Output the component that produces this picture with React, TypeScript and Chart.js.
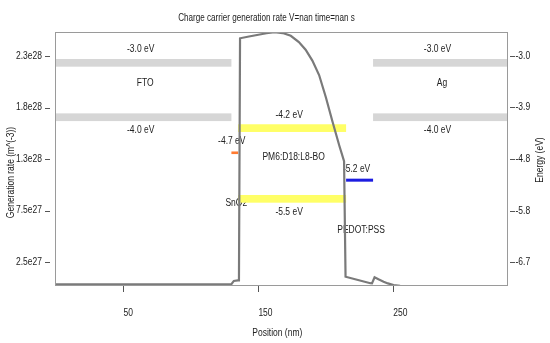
import { useEffect, useRef } from "react";
import { Chart, registerables } from "chart.js";

Chart.register(...registerables);

// ---- data ----
const positionNm = [
  0, 130, 131.8, 134.8, 135.6, 136.4, 143, 150, 156, 162, 168, 174, 180, 185, 190,
  195, 200, 205, 210, 213.5, 214.6, 233, 234.2, 236.1, 239, 242.8, 246, 250.2, 255,
  262, 280, 335,
];
const generationRate = [
  0.37e27, 0.37e27, 0.69e27, 0.74e27, 0.74e27, 24.21e27, 24.38e27, 24.55e27, 24.7e27,
  24.8e27, 24.72e27, 24.45e27, 23.85e27, 23.1e27, 22.05e27, 20.65e27, 18.5e27, 16.1e27,
  13.8e27, 12.3e27, 1.1e27, 0.47e27, 0.45e27, 1.05e27, 0.85e27, 0.62e27, 0.45e27,
  0.3e27, 0.22e27, 0.19e27, 0.18e27, 0.18e27,
];

const xTickValues = [50, 150, 250];
const xTickLabels = ["50", "150", "250"];
const rateTickValues = [2.5e27, 7.5e27, 1.25e28, 1.75e28, 2.25e28];
const rateTickLabels = ["2.5e27", "7.5e27", "1.3e28", "1.8e28", "2.3e28"];
const energyTickValues = [-2.95, -3.89, -4.84, -5.79, -6.74];
const energyTickLabels = ["-3.0", "-3.9", "-4.8", "-5.8", "-6.7"];

const layerNames = ["FTO", "SnO2", "PM6:D18:L8-BO", "PEDOT:PSS", "Ag"];
const layerStart = [0, 130, 135, 215, 235];
const layerEnd = [130, 135, 215, 235, 335];
const layerLumo: (number | null)[] = [-3.0, null, -4.2, null, -3.0];
const layerHomo = [-4.0, -4.7, -5.5, -5.2, -4.0];

const chartTitle = "Charge carrier generation rate V=nan time=nan s";
const xTitle = "Position (nm)";
const yTitle = "Generation rate (m^(-3))";
const y2Title = "Energy (eV)";

// ---- styles ----
const bandColors = ["#d6d6d6", "#ff7a30", "#ffff66", "#1c1ce0", "#d6d6d6"];
const bandThickness = [7.7, 2.6, 7.7, 3, 7.7];
const FONT = '10px "Liberation Sans", Arial, sans-serif';
const TEXT = "#222";
const SX = 0.85;

function drawText(
  ctx: CanvasRenderingContext2D,
  text: string,
  x: number,
  y: number,
  align: CanvasTextAlign,
  baseline: CanvasTextBaseline = "alphabetic",
  rotate = 0,
  sx = SX
) {
  ctx.save();
  ctx.translate(x, y);
  if (rotate) ctx.rotate(rotate);
  ctx.scale(sx, 1);
  ctx.font = FONT;
  ctx.fillStyle = TEXT;
  ctx.textAlign = align;
  ctx.textBaseline = baseline;
  ctx.fillText(text, 0, 0);
  ctx.restore();
}

const overlayPlugin = {
  id: "overlay",
  beforeDatasetsDraw(chart: any) {
    const { ctx, chartArea, scales } = chart;
    const xs = scales.x;
    const es = scales.y2;
    ctx.save();
    ctx.beginPath();
    ctx.rect(chartArea.left, chartArea.top, chartArea.right - chartArea.left, chartArea.bottom - chartArea.top);
    ctx.clip();
    layerNames.forEach((name, i) => {
      const x0 = xs.getPixelForValue(layerStart[i]);
      const x1 = xs.getPixelForValue(layerEnd[i]);
      const xc = (x0 + x1) / 2;
      const th = bandThickness[i];
      const lumo = layerLumo[i];
      const homo = layerHomo[i];
      ctx.fillStyle = bandColors[i];
      if (lumo !== null) ctx.fillRect(x0, es.getPixelForValue(lumo), x1 - x0, th);
      ctx.fillRect(x0, es.getPixelForValue(homo), x1 - x0, th);
      if (lumo !== null) {
        drawText(ctx, `${lumo.toFixed(1)} eV`, xc - 3, es.getPixelForValue(lumo) - 6.5, "center");
        drawText(ctx, name, xc + 1.5, es.getPixelForValue((lumo + homo) / 2), "center");
        drawText(ctx, `${homo.toFixed(1)} eV`, xc - 3, es.getPixelForValue(homo) + 20, "center");
      } else {
        drawText(ctx, `${homo.toFixed(1)} eV`, xc - 3, es.getPixelForValue(homo) - 7, "center");
        drawText(ctx, name, xc + 1.5, es.getPixelForValue(homo - 1.0), "center");
      }
    });
    ctx.restore();
  },
  afterDraw(chart: any) {
    const { ctx, chartArea, scales } = chart;
    const { left, right, top, bottom } = chartArea;
    ctx.save();
    // frame
    ctx.strokeStyle = "#9a9a9a";
    ctx.lineWidth = 1;
    ctx.strokeRect(Math.round(left) - 0.5, Math.round(top) + 0.5, Math.round(right - left), Math.round(bottom - top) - 1);
    // tick marks
    ctx.strokeStyle = "#555";
    ctx.beginPath();
    scales.y.ticks.forEach((t: any) => {
      const y = Math.round(scales.y.getPixelForValue(t.value)) + 0.5;
      ctx.moveTo(45, y);
      ctx.lineTo(50, y);
    });
    scales.y2.ticks.forEach((t: any) => {
      const y = Math.round(scales.y2.getPixelForValue(t.value)) + 0.5;
      ctx.moveTo(510, y);
      ctx.lineTo(515, y);
    });
    scales.x.ticks.forEach((t: any) => {
      const x = Math.round(scales.x.getPixelForValue(t.value)) + 0.5;
      ctx.moveTo(x, bottom);
      ctx.lineTo(x, bottom + 6);
    });
    ctx.stroke();
    ctx.restore();
    // tick labels
    scales.y.ticks.forEach((t: any, i: number) => {
      drawText(ctx, rateTickLabels[i], 42, scales.y.getPixelForValue(t.value), "right", "middle");
    });
    scales.y2.ticks.forEach((t: any, i: number) => {
      drawText(ctx, energyTickLabels[i], 515.5, scales.y2.getPixelForValue(t.value), "left", "middle");
    });
    scales.x.ticks.forEach((t: any, i: number) => {
      drawText(ctx, xTickLabels[i], scales.x.getPixelForValue(t.value), 316, "left");
    });
    // titles
    drawText(ctx, chartTitle, 266.5, 20.5, "center", "alphabetic", 0, 0.81);
    drawText(ctx, xTitle, 277.3, 336, "center");
    drawText(ctx, yTitle, 11, 172.5, "center", "middle", -Math.PI / 2);
    drawText(ctx, y2Title, 540, 160, "center", "middle", -Math.PI / 2);
  },
};

export default function App() {
  const canvasRef = useRef<HTMLCanvasElement | null>(null);

  useEffect(() => {
    if (!canvasRef.current) return;
    const chart = new Chart(canvasRef.current, {
      type: "line",
      data: {
        datasets: [
          {
            data: positionNm.map((x, i) => ({ x, y: generationRate[i] })),
            borderColor: "rgb(122,122,122)",
            borderWidth: 2.2,
            pointRadius: 0,
            tension: 0,
            fill: false,
            yAxisID: "y",
          },
        ],
      },
      options: {
        animation: false,
        responsive: true,
        maintainAspectRatio: false,
        layout: { padding: { top: 32, left: 0, right: 0, bottom: 0 } },
        plugins: { legend: { display: false }, tooltip: { enabled: false }, title: { display: false } },
        scales: {
          x: {
            type: "linear",
            min: 0,
            max: 335,
            grid: { display: false, drawTicks: false },
            border: { display: false },
            ticks: { display: false },
            afterBuildTicks: (s: any) => {
              s.ticks = xTickValues.map((v) => ({ value: v }));
            },
            afterFit: (s: any) => {
              s.height = 57;
            },
          },
          y: {
            type: "linear",
            position: "left",
            min: 0.2e27,
            max: 24.82e27,
            grid: { display: false, drawTicks: false },
            border: { display: false },
            ticks: { display: false },
            afterBuildTicks: (s: any) => {
              s.ticks = rateTickValues.map((v) => ({ value: v }));
            },
            afterFit: (s: any) => {
              s.width = 56;
            },
          },
          y2: {
            type: "linear",
            position: "right",
            min: -7.173,
            max: -2.504,
            grid: { display: false, drawTicks: false },
            border: { display: false },
            ticks: { display: false },
            afterBuildTicks: (s: any) => {
              s.ticks = energyTickValues.map((v) => ({ value: v }));
            },
            afterFit: (s: any) => {
              s.width = 42;
            },
          },
        },
      } as any,
      plugins: [overlayPlugin],
    });
    return () => chart.destroy();
  }, []);

  return (
    <div style={{ position: "fixed", left: 0, top: 0, width: 550, height: 343, background: "#fff" }}>
      <canvas ref={canvasRef} />
    </div>
  );
}
